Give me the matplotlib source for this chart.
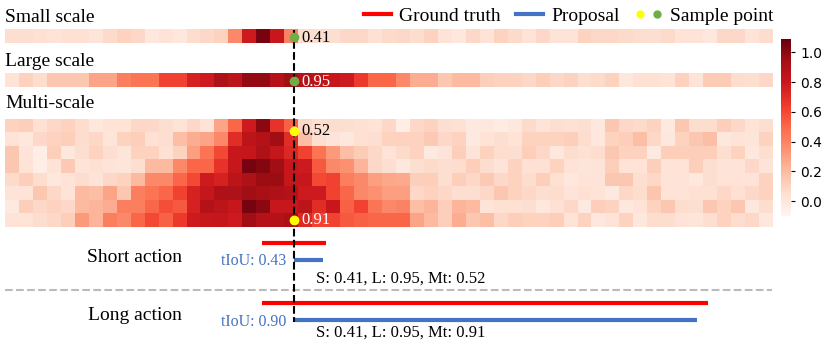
import matplotlib
matplotlib.use("Agg")
import matplotlib.pyplot as plt
import numpy as np
from matplotlib.lines import Line2D
from matplotlib.legend_handler import HandlerTuple

plt.rcParams['font.family'] = 'serif'
plt.rcParams['font.serif'] = ['Liberation Serif', 'DejaVu Serif']

# heatmap values (55 temporal positions)
small_scale = [0.05, 0.05, 0.04, 0.03, 0.04, 0.04, 0.01, 0.07, 0.10, 0.08,
               0.00, 0.03, 0.00, 0.06, 0.08, 0.10, 0.38, 0.78, 1.05, 0.80,
               0.41, 0.05, 0.05, 0.05, 0.08, 0.08, 0.04, 0.07, 0.08, 0.06,
               0.10, 0.03, 0.00, 0.08, 0.03, 0.10, 0.07, 0.03, 0.08, 0.02,
               0.02, 0.10, 0.08, 0.08, 0.07, 0.06, 0.05, 0.07, 0.03, 0.02,
               0.00, 0.08, 0.08, 0.02, 0.06]
large_scale = [0.03, 0.10, 0.06, 0.15, 0.15, 0.15, 0.28, 0.28, 0.42, 0.45,
               0.45, 0.62, 0.62, 0.75, 0.78, 0.90, 0.85, 0.98, 0.98, 0.88,
               0.95, 0.88, 0.85, 0.80, 0.78, 0.65, 0.50, 0.50, 0.38, 0.25,
               0.25, 0.15, 0.20, 0.20, 0.12, 0.10, 0.10, 0.08, 0.12, 0.08,
               0.10, 0.05, 0.07, 0.10, 0.00, 0.04, 0.04, 0.03, 0.10, 0.02,
               0.13, 0.13, 0.06, 0.05, 0.08]
multi_scale = [
    [0.10, 0.12, 0.04, 0.08, 0.10, 0.06, 0.00, 0.03, 0.03, 0.08, 0.08, 0.05, 0.03, 0.08,
     0.03, 0.28, 0.50, 0.78, 1.00, 0.68, 0.52, 0.08, 0.05, 0.06, 0.05, 0.04, 0.03, 0.08,
     -0.05, 0.08, 0.10, 0.05, 0.04, -0.02, 0.00, -0.03, 0.00, 0.07, 0.02, 0.05, 0.04, 0.05,
     0.00, 0.15, 0.08, 0.07, 0.10, -0.02, 0.15, 0.06, 0.06, 0.12, 0.08, 0.03, 0.05],
    [0.03, 0.00, 0.08, 0.10, 0.12, 0.06, 0.08, 0.01, 0.10, 0.12, 0.04, 0.05, 0.18, 0.25,
     0.28, 0.38, 0.70, 0.85, 0.88, 0.95, 0.70, 0.18, 0.05, 0.02, 0.00, 0.04, 0.05, 0.10,
     0.10, 0.10, 0.14, 0.08, 0.10, -0.02, 0.03, 0.05, 0.03, 0.10, 0.10, 0.10, 0.12, 0.06,
     0.00, 0.10, 0.12, 0.18, 0.08, 0.00, 0.10, 0.15, 0.18, 0.00, 0.02, 0.01, 0.10],
    [0.15, 0.02, -0.05, 0.12, 0.00, 0.05, 0.10, 0.05, 0.01, 0.10, 0.10, 0.04, 0.10, 0.30,
     0.45, 0.60, 0.80, 0.82, 0.90, 0.82, 0.72, 0.62, 0.45, 0.32, 0.18, 0.13, 0.08, 0.03,
     0.07, 0.10, -0.02, 0.02, 0.12, 0.02, 0.10, 0.06, 0.05, 0.12, 0.08, 0.00, 0.06, 0.04,
     0.06, 0.15, 0.10, 0.10, -0.02, 0.12, 0.12, 0.12, 0.12, 0.05, 0.10, 0.00, 0.05],
    [0.15, 0.03, -0.05, 0.03, 0.14, 0.02, 0.04, 0.02, 0.01, 0.05, 0.20, 0.20, 0.38, 0.50,
     0.50, 0.68, 0.80, 1.05, 1.02, 0.95, 0.80, 0.78, 0.55, 0.38, 0.35, 0.22, 0.08, 0.05,
     0.00, 0.05, 0.07, 0.05, 0.06, 0.12, 0.06, 0.02, 0.10, 0.04, 0.04, 0.10, 0.03, 0.01,
     0.02, 0.12, 0.03, 0.03, 0.12, 0.03, 0.03, 0.12, 0.05, 0.02, 0.02, 0.08, 0.02],
    [0.07, 0.12, 0.06, 0.00, 0.03, 0.06, 0.02, 0.08, 0.10, 0.20, 0.38, 0.38, 0.50, 0.60,
     0.78, 0.75, 0.85, 0.90, 0.96, 0.96, 0.82, 0.80, 0.60, 0.62, 0.42, 0.38, 0.30, 0.27,
     0.26, 0.12, 0.12, 0.05, 0.12, 0.08, 0.14, 0.08, 0.10, 0.06, 0.12, 0.04, 0.00, 0.02,
     0.02, 0.15, 0.15, 0.05, 0.08, 0.02, 0.02, -0.01, 0.05, 0.03, 0.03, 0.02, 0.10],
    [0.02, 0.02, 0.15, 0.08, 0.02, 0.20, 0.18, 0.28, 0.15, 0.42, 0.45, 0.50, 0.62, 0.75,
     0.82, 0.90, 0.90, 0.95, 0.92, 0.90, 0.88, 0.78, 0.78, 0.62, 0.50, 0.38, 0.35, 0.30,
     0.30, 0.08, 0.10, 0.08, 0.05, 0.05, 0.08, 0.15, 0.10, 0.08, 0.05, 0.06, 0.02, 0.04,
     0.03, -0.02, 0.08, 0.06, 0.16, 0.03, 0.03, 0.04, 0.04, 0.08, 0.04, 0.08, 0.10],
    [-0.02, 0.12, 0.08, 0.10, 0.08, 0.20, 0.22, 0.25, 0.42, 0.42, 0.50, 0.58, 0.55, 0.75,
     0.88, 0.85, 0.80, 1.05, 1.00, 0.80, 0.80, 0.85, 0.70, 0.80, 0.52, 0.62, 0.45, 0.38,
     0.40, 0.18, 0.22, 0.12, 0.22, 0.20, 0.02, 0.04, 0.04, 0.05, 0.00, 0.04, 0.08, -0.02,
     0.12, 0.10, -0.01, 0.03, 0.10, 0.15, 0.06, 0.05, 0.15, 0.10, 0.15, 0.00, 0.06],
    [0.03, 0.03, 0.06, 0.08, 0.12, 0.32, 0.22, 0.42, 0.38, 0.50, 0.60, 0.52, 0.65, 0.78,
     0.80, 0.82, 0.78, 0.95, 0.88, 0.88, 0.91, 0.72, 0.62, 0.62, 0.55, 0.52, 0.50, 0.50,
     0.50, 0.28, 0.20, 0.12, 0.25, 0.15, 0.18, 0.08, 0.12, 0.10, 0.10, 0.12, 0.03, 0.10,
     0.00, 0.03, 0.10, 0.00, 0.06, 0.06, 0.02, 0.01, 0.05, 0.10, 0.06, 0.08, 0.00],
]
row_names = ['Small scale', 'Large scale', 'Multi-scale']

# sample point (in temporal cell units) and its scores
sample_pos = 20.7
sample_small = 0.41
sample_large = 0.95
sample_multi_top = 0.52
sample_multi_bottom = 0.91

# action segments (start, end) in temporal cell units
gt_short = (18.4, 23.0)
prop_short = (20.7, 22.8)
gt_long = (18.4, 50.4)
prop_long = (20.7, 49.6)
tiou_short = 0.43
tiou_long = 0.90

red = '#ff0000'
blue = '#4472c4'
yellow = '#ffff00'
green = '#70ad47'

n = len(small_scale)
fig = plt.figure(figsize=(8.3, 3.41), dpi=100)
ax = fig.add_axes([5 / 830, 0, 767 / 830, 1])
ax.set_xlim(0, n)
ax.set_ylim(341, 0)
ax.axis('off')

vmin, vmax = -0.1, 1.09
cmap = 'Reds'
im = ax.imshow(np.array([small_scale]), cmap=cmap, vmin=vmin, vmax=vmax,
               extent=(0, n, 43.3, 30), aspect='auto', interpolation='nearest')
ax.imshow(np.array([large_scale]), cmap=cmap, vmin=vmin, vmax=vmax,
          extent=(0, n, 87.3, 74), aspect='auto', interpolation='nearest')
ax.imshow(np.array(multi_scale), cmap=cmap, vmin=vmin, vmax=vmax,
          extent=(0, n, 227, 119), aspect='auto', interpolation='nearest')

ax.text(0, 17, row_names[0], fontsize=14, va='center', ha='left')
ax.text(0, 61, row_names[1], fontsize=14, va='center', ha='left')
ax.text(0, 104, row_names[2], fontsize=14, va='center', ha='left')

# vertical sample line
ax.plot([sample_pos, sample_pos], [30, 322], color='black', ls='--', lw=1.5, zorder=3)

# sample points and their values
ax.plot(sample_pos, 36.6, 'o', color=green, ms=6, zorder=4)
ax.plot(sample_pos, 80.6, 'o', color=green, ms=6, zorder=4)
ax.plot(sample_pos, 131, 'o', color=yellow, ms=6, zorder=4)
ax.plot(sample_pos, 220, 'o', color=yellow, ms=6, zorder=4)
ax.text(sample_pos + 0.55, 37.5, f'{sample_small:.2f}', fontsize=12, va='center', color='black')
ax.text(sample_pos + 0.55, 81.5, f'{sample_large:.2f}', fontsize=12, va='center', color='white')
ax.text(sample_pos + 0.55, 131, f'{sample_multi_top:.2f}', fontsize=12, va='center', color='black')
ax.text(sample_pos + 0.55, 220, f'{sample_multi_bottom:.2f}', fontsize=12, va='center', color='white')

# action segments
ax.plot(gt_short, [243, 243], color=red, lw=3, solid_capstyle='butt')
ax.plot(prop_short, [259.5, 259.5], color=blue, lw=3, solid_capstyle='butt')
ax.plot(gt_long, [303, 303], color=red, lw=3, solid_capstyle='butt')
ax.plot(prop_long, [320, 320], color=blue, lw=3, solid_capstyle='butt')
ax.plot([0, n], [290, 290], color='#bbbbbb', ls='--', lw=1.5)

ax.text(9.3, 257, 'Short action', fontsize=14, ha='center', va='center')
ax.text(9.3, 316, 'Long action', fontsize=14, ha='center', va='center')
ax.text(prop_short[0] - 0.55, 261, f'tIoU: {tiou_short:.2f}', fontsize=11.5,
        ha='right', va='center', color=blue)
ax.text(prop_long[0] - 0.55, 322, f'tIoU: {tiou_long:.2f}', fontsize=11.5,
        ha='right', va='center', color=blue)
ax.text(22.3, 279, f'S: {small_scale[20]:.2f}, L: {large_scale[20]:.2f}, Mt: {sample_multi_top:.2f}',
        fontsize=12, ha='left', va='center')
ax.text(22.3, 333, f'S: {small_scale[20]:.2f}, L: {large_scale[20]:.2f}, Mt: {sample_multi_bottom:.2f}',
        fontsize=12, ha='left', va='center')

# colorbar
cax = fig.add_axes([781 / 830, (341 - 216) / 341, 10 / 830, 177 / 341])
cb = fig.colorbar(im, cax=cax, ticks=[0.0, 0.2, 0.4, 0.6, 0.8, 1.0])
cb.outline.set_visible(False)
cb.ax.tick_params(labelsize=10, length=3, width=0.8)
for t in cb.ax.get_yticklabels():
    t.set_family('DejaVu Sans')

# legend
handles = [Line2D([], [], color=red, lw=3),
           Line2D([], [], color=blue, lw=3),
           (Line2D([], [], marker='o', ls='', color=yellow, ms=5),
            Line2D([], [], marker='o', ls='', color=green, ms=5))]
labels = ['Ground truth', 'Proposal', 'Sample point']
fig.legend(handles, labels, loc='upper right', bbox_to_anchor=(791 / 830, 1.03), ncol=3,
           frameon=False, fontsize=14, handlelength=1.4, handletextpad=0.4,
           columnspacing=0.8, handler_map={tuple: HandlerTuple(ndivide=None, pad=0.3)})

fig.savefig('out.png', dpi=100)
